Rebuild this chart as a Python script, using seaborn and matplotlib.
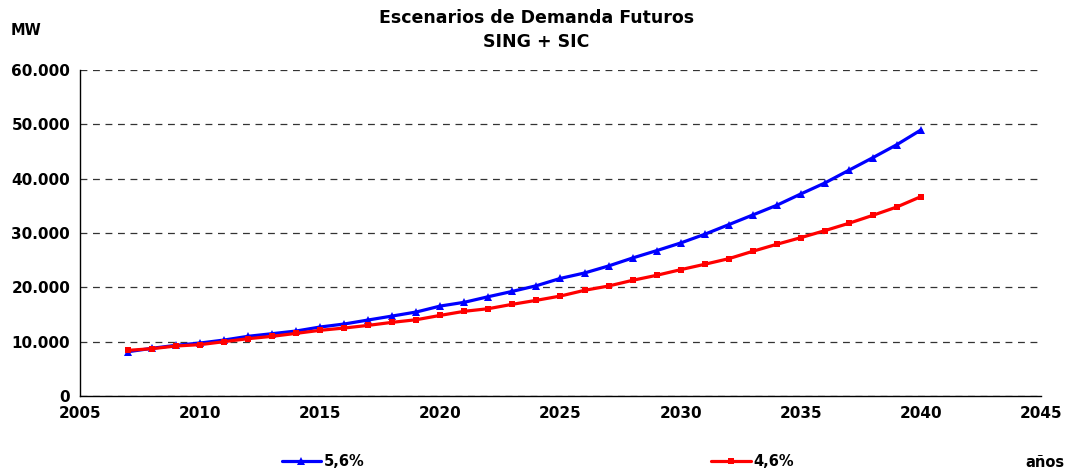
import matplotlib
matplotlib.use("Agg")
import matplotlib.pyplot as plt
from matplotlib.ticker import FuncFormatter, MultipleLocator
import seaborn as sns
import pandas as pd

years = list(range(2007, 2041))
demand_56 = [8150, 8780, 9330, 9750, 10300, 10990, 11470, 11960, 12700, 13250,
             13990, 14720, 15460, 16560, 17250, 18280, 19260, 20300, 21650, 22640,
             23930, 25400, 26750, 28160, 29760, 31530, 33310, 35100, 37180, 39200,
             41540, 43860, 46260, 48960]
demand_46 = [8400, 8710, 9200, 9450, 10000, 10550, 10980, 11530, 12090, 12510,
             13000, 13560, 14040, 14840, 15590, 16070, 16880, 17610, 18400, 19450,
             20240, 21290, 22210, 23250, 24240, 25270, 26630, 27920, 29140, 30430,
             31780, 33250, 34790, 36690]
series_labels = ["5,6%", "4,6%"]
series_colors = ["#0000ff", "#ff0000"]
series_markers = ["^", "s"]

sns.set_style("white")
plt.rcParams["font.family"] = ["DejaVu Sans"]
plt.rcParams["text.color"] = "black"
plt.rcParams["xtick.color"] = "black"
plt.rcParams["ytick.color"] = "black"

fig = plt.figure(figsize=(10.69, 4.73), dpi=100)
ax = fig.add_axes([0.0748, 0.1628, 0.8990, 0.6892])

lines = []
for vals, lab, col, mk in zip([demand_56, demand_46], series_labels, series_colors, series_markers):
    df = pd.DataFrame({"year": years, "mw": vals})
    sns.lineplot(data=df, x="year", y="mw", ax=ax, color=col, linewidth=2.3,
                 marker=mk, markersize=6 if mk == "^" else 5, markeredgewidth=0)
    lines.append(ax.lines[-1])

ax.set_xlim(2005, 2045)
ax.set_ylim(0, 60000)
ax.xaxis.set_major_locator(MultipleLocator(5))
ax.yaxis.set_major_locator(MultipleLocator(10000))
ax.yaxis.set_major_formatter(FuncFormatter(lambda v, p: f"{int(v):,}".replace(",", ".")))
ax.set_xlabel("")
ax.set_ylabel("")
ax.grid(axis="y", linestyle=(0, (5.5, 4.5)), color="#333333", linewidth=0.9)
ax.grid(axis="x", visible=False)
ax.set_axisbelow(True)
for s in ["top", "right"]:
    ax.spines[s].set_visible(False)
for s in ["left", "bottom"]:
    ax.spines[s].set_color("black")
    ax.spines[s].set_linewidth(1.0)
ax.tick_params(axis="both", direction="out", length=4, width=1, color="black",
               labelcolor="black", labelsize=11, pad=3)
for t in ax.get_xticklabels() + ax.get_yticklabels():
    t.set_fontweight("bold")

fig.text(0.502, 0.962, "Escenarios de Demanda Futuros", ha="center", va="center",
         fontsize=12.5, fontweight="bold", color="black")
fig.text(0.502, 0.911, "SING + SIC", ha="center", va="center",
         fontsize=12.5, fontweight="bold", color="black")
fig.text(0.010, 0.935, "MW", ha="left", va="center", fontsize=10.5, fontweight="bold",
         color="black")
fig.text(0.996, 0.022, "años", ha="right", va="center", fontsize=10.5, fontweight="bold",
         color="black")

for ln, lab, xpos in zip(lines, series_labels, [0.258, 0.660]):
    leg = fig.legend([ln], [lab], loc="center left", bbox_to_anchor=(xpos, 0.024),
                     frameon=False, prop={"weight": "bold", "size": 10.5},
                     handlelength=2.7, handletextpad=0.2, borderaxespad=0)
    for t in leg.get_texts():
        t.set_color("black")

fig.savefig("out.png", dpi=100)
